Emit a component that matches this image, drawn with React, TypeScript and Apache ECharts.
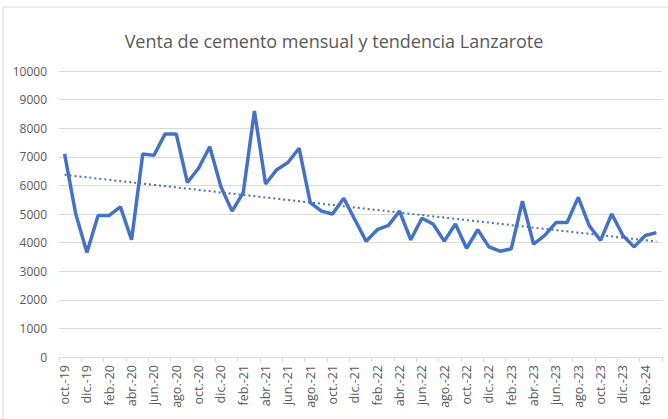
import React, { useEffect, useRef } from "react";
import * as echarts from "echarts";

// Monthly categories oct.-19 .. mar.-24
const categories: string[] = [
  "oct.-19", "nov.-19", "dic.-19",
  "ene.-20", "feb.-20", "mar.-20", "abr.-20", "may.-20", "jun.-20", "jul.-20", "ago.-20", "sep.-20", "oct.-20", "nov.-20", "dic.-20",
  "ene.-21", "feb.-21", "mar.-21", "abr.-21", "may.-21", "jun.-21", "jul.-21", "ago.-21", "sep.-21", "oct.-21", "nov.-21", "dic.-21",
  "ene.-22", "feb.-22", "mar.-22", "abr.-22", "may.-22", "jun.-22", "jul.-22", "ago.-22", "sep.-22", "oct.-22", "nov.-22", "dic.-22",
  "ene.-23", "feb.-23", "mar.-23", "abr.-23", "may.-23", "jun.-23", "jul.-23", "ago.-23", "sep.-23", "oct.-23", "nov.-23", "dic.-23",
  "ene.-24", "feb.-24", "mar.-24",
];

const ventas: number[] = [
  7100, 5000, 3650,
  4950, 4950, 5250, 4100, 7100, 7050, 7800, 7800, 6100, 6600, 7350, 5950,
  5100, 5750, 8600, 6050, 6550, 6800, 7300, 5400, 5100, 5000, 5550, 4800,
  4050, 4450, 4600, 5100, 4100, 4850, 4650, 4050, 4650, 3800, 4450, 3850,
  3700, 3780, 5450, 3950, 4250, 4700, 4700, 5580, 4580, 4080, 5000, 4250,
  3850, 4250, 4350,
];

const trendStart = 6370;
const trendEnd = 4040;

const yTicks = { min: 0, max: 10000, interval: 1000 };

export default function App() {
  const ref = useRef<HTMLDivElement>(null);

  useEffect(() => {
    if (!ref.current) return;
    const chart = echarts.init(ref.current, null, { renderer: "svg" });
    const lastIdx = categories.length - 1;
    chart.setOption({
      animation: false,
      backgroundColor: "#ffffff",
      title: {
        text: "Venta de cemento mensual y tendencia Lanzarote",
        left: "center",
        top: 27,
        textStyle: {
          fontFamily: "Open Sans",
          fontWeight: "normal",
          fontSize: 18,
          color: "#595959",
        },
      },
      graphic: [
        {
          type: "rect",
          shape: { x: 3, y: 7, width: 720, height: 520 },
          style: { fill: "none", stroke: "#d9d9d9", lineWidth: 1 },
          silent: true,
        },
      ],
      grid: { left: 59, right: 6, top: 71, bottom: 62 },
      xAxis: {
        type: "category",
        data: categories,
        boundaryGap: true,
        axisLine: { lineStyle: { color: "#d9d9d9" } },
        axisTick: { show: true, interval: 1, length: 5, lineStyle: { color: "#d9d9d9" } },
        axisLabel: {
          interval: 1,
          rotate: 90,
          fontFamily: "Open Sans",
          fontSize: 12.5,
          color: "#595959",
          margin: 8,
        },
      },
      yAxis: {
        type: "value",
        min: yTicks.min,
        max: yTicks.max,
        interval: yTicks.interval,
        axisLine: { show: false },
        axisTick: { show: false },
        splitLine: { lineStyle: { color: "#d9d9d9", width: 1 } },
        axisLabel: {
          fontFamily: "Open Sans",
          fontSize: 12,
          color: "#595959",
          margin: 12,
          formatter: (v: number) => String(v),
        },
      },
      series: [
        {
          name: "Venta",
          type: "line",
          data: ventas,
          symbol: "none",
          lineStyle: { color: "#4472c4", width: 3.5 },
          z: 3,
        },
        {
          name: "Tendencia",
          type: "line",
          data: [[0, trendStart], [lastIdx, trendEnd]],
          symbol: "none",
          lineStyle: { color: "#4472c4", width: 2, type: [2, 3] },
          z: 2,
        },
      ],
    });
    return () => chart.dispose();
  }, []);

  return (
    <div
      ref={ref}
      style={{ position: "fixed", left: 0, top: 0, width: 668, height: 419 }}
    />
  );
}
